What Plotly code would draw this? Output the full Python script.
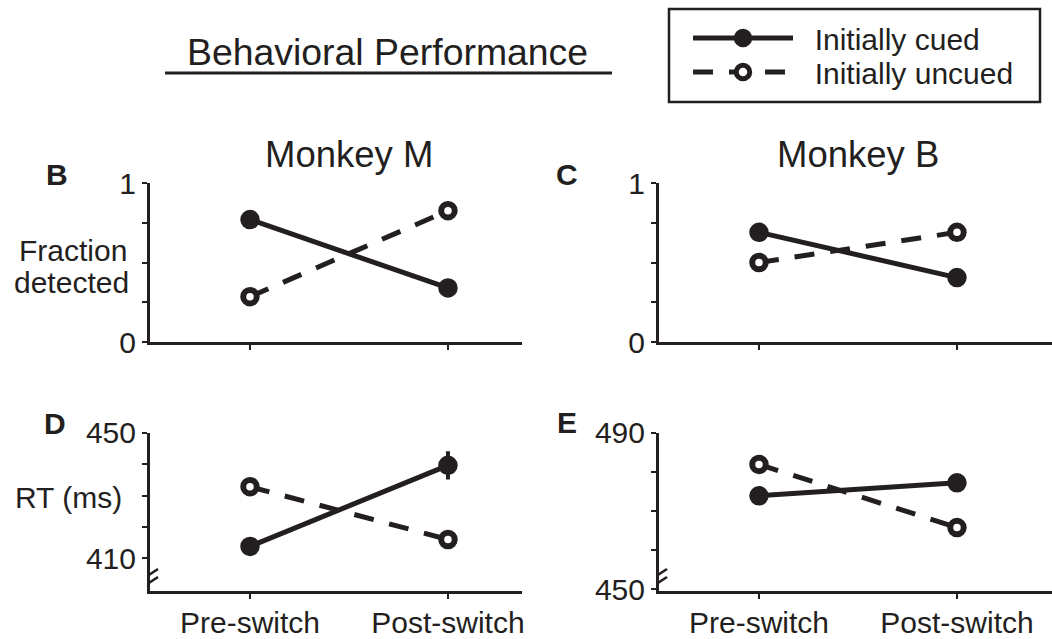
import plotly.graph_objects as go

W, H = 1052, 639
INK = "#231f20"
FONT = "Liberation Sans, Arial, Helvetica, sans-serif"

# ---------------- data ----------------
conditions = ["Pre-switch", "Post-switch"]
series_names = ["Initially cued", "Initially uncued"]

frac_M_cued = [0.77, 0.34]
frac_M_uncued = [0.285, 0.826]
frac_B_cued = [0.69, 0.405]
frac_B_uncued = [0.50, 0.69]

rt_M_cued = [413.8, 439.6]
rt_M_uncued = [432.8, 416.0]
rt_B_cued = [473.9, 477.2]
rt_B_uncued = [481.9, 465.8]

rt_M_cued_err = [1.0, 4.5]
rt_M_uncued_err = [1.0, 1.0]
rt_B_cued_err = [1.0, 1.0]
rt_B_uncued_err = [1.0, 1.0]

frac_ticks = [0, 0.25, 0.5, 0.75, 1]
frac_ticktext = ["0", "", "", "", "1"]
rt_M_ticks = [410, 420, 430, 440, 450]
rt_M_ticktext = ["410", "", "", "", "450"]
rt_B_ticks = [450, 460, 470, 480, 490]
rt_B_ticktext = ["450", "", "", "", "490"]

x_pos = list(range(len(conditions)))

fig = go.Figure()

CUED_LINE = dict(color=INK, width=5)
UNCUED_LINE = dict(color=INK, width=5, dash="20px,16px")
CUED_MARK = dict(symbol="circle", size=13.5, color=INK, line=dict(color=INK, width=6))
UNCUED_MARK = dict(symbol="circle", size=13.5, color="white", line=dict(color=INK, width=6))
NB = "\u00a0\u00a0"

def err(arr):
    return dict(type="data", array=arr, visible=True, thickness=4, width=0, color=INK) if arr else None

def add_pair(cued, uncued, xa, ya, cued_err=None, uncued_err=None):
    fig.add_trace(go.Scatter(
        x=x_pos, y=uncued, xaxis=xa, yaxis=ya, mode="lines+markers",
        name=series_names[1], showlegend=False,
        line=UNCUED_LINE, marker=UNCUED_MARK, error_y=err(uncued_err), cliponaxis=False))
    fig.add_trace(go.Scatter(
        x=x_pos, y=cued, xaxis=xa, yaxis=ya, mode="lines+markers",
        name=series_names[0], showlegend=False,
        line=CUED_LINE, marker=CUED_MARK, error_y=err(cued_err), cliponaxis=False))

add_pair(frac_M_cued, frac_M_uncued, "x", "y")
add_pair(frac_B_cued, frac_B_uncued, "x2", "y2")
add_pair(rt_M_cued, rt_M_uncued, "x3", "y3", rt_M_cued_err, rt_M_uncued_err)
add_pair(rt_B_cued, rt_B_uncued, "x4", "y4", rt_B_cued_err, rt_B_uncued_err)

# legend entries (one legend per row so the row spacing can match)
fig.add_trace(go.Scatter(x=[None], y=[None], mode="lines+markers", name=NB + series_names[0],
                         line=CUED_LINE, marker=CUED_MARK, showlegend=True, legend="legend"))
fig.add_trace(go.Scatter(x=[None], y=[None], mode="lines+markers", name=NB + series_names[1],
                         line=UNCUED_LINE, marker=UNCUED_MARK, showlegend=True, legend="legend2"))

# ---------------- axes ----------------
left_dom = [150 / W, 522 / W]
right_dom = [659 / W, 1.0]
top_dom = [(H - 342) / H, (H - 183) / H]
bot_dom = [(H - 591) / H, (H - 432.7) / H]
xr_left = [-0.505, 1.374]
xr_right = [-0.505, 1.48]

def xax(dom, rng, anchor, labels):
    return dict(domain=dom, range=rng, anchor=anchor, showline=True, linewidth=3, linecolor=INK,
                showgrid=False, zeroline=False, tickvals=x_pos, ticktext=conditions,
                showticklabels=labels, ticks="outside", ticklen=5, tickwidth=2, tickcolor=INK,
                ticklabelstandoff=-2,
                tickfont=dict(size=30, color=INK, family=FONT), fixedrange=True)

def yax(dom, rng, anchor, tv, tt):
    return dict(domain=dom, range=rng, anchor=anchor, showline=True, linewidth=3, linecolor=INK,
                showgrid=False, zeroline=False, tickvals=tv, ticktext=tt,
                ticks="outside", ticklen=5, tickwidth=2, tickcolor=INK, ticklabelstandoff=0,
                tickfont=dict(size=30, color=INK, family=FONT), fixedrange=True)

fig.update_layout(
    xaxis=xax(left_dom, xr_left, "y", False),
    yaxis=yax(top_dom, [0, 1], "x", frac_ticks, frac_ticktext),
    xaxis2=xax(right_dom, xr_right, "y2", False),
    yaxis2=yax(top_dom, [0, 1], "x2", frac_ticks, frac_ticktext),
    xaxis3=xax(left_dom, xr_left, "y3", True),
    yaxis3=yax(bot_dom, [399.6, 450], "x3", rt_M_ticks, rt_M_ticktext),
    xaxis4=xax(right_dom, xr_right, "y4", True),
    yaxis4=yax(bot_dom, [449.6, 490], "x4", rt_B_ticks, rt_B_ticktext),
)

# ---------------- annotations ----------------
def ann(text, px, py, size, bold=False):
    return dict(text=("<b>%s</b>" % text) if bold else text, x=px / W, y=(H - py) / H,
                xref="paper", yref="paper", showarrow=False, xanchor="center", yanchor="middle",
                font=dict(size=size, color=INK, family=FONT))

annotations = [
    ann("Behavioral Performance", 387, 52, 37.4),
    ann("Monkey M", 349, 155, 36.5),
    ann("Monkey B", 858, 155, 36.5),
    ann("B", 57, 174, 30, True),
    ann("C", 567, 174, 30, True),
    ann("D", 55, 423, 30, True),
    ann("E", 567, 422, 30, True),
    ann("Fraction", 73, 250, 30),
    ann("detected", 71, 282, 30),
    ann("RT (ms)", 68, 497, 30),
]

# ---------------- shapes ----------------
shapes = [
    dict(type="line", xref="paper", yref="paper", x0=165 / W, x1=612 / W,
         y0=(H - 73) / H, y1=(H - 73) / H, line=dict(color=INK, width=3)),
    dict(type="rect", xref="paper", yref="paper", x0=669 / W, x1=1040 / W,
         y0=(H - 102) / H, y1=(H - 9) / H, line=dict(color=INK, width=2.5)),
]
for xa, ya, xr, yb in (("x3", "y3", xr_left, 399.6), ("x4", "y4", xr_right, 449.6)):
    shapes.append(dict(type="line", xref=xa, yref=ya, xsizemode="pixel", ysizemode="pixel",
                       xanchor=xr[0], yanchor=yb, x0=0, x1=0, y0=10, y1=16,
                       line=dict(color="white", width=5), layer="above"))
    for off in (0, 8):
        shapes.append(dict(type="line", xref=xa, yref=ya, xsizemode="pixel", ysizemode="pixel",
                           xanchor=xr[0], yanchor=yb, x0=-6, x1=8, y0=5 + off, y1=14 + off,
                           line=dict(color=INK, width=2.5), layer="above"))

leg_common = dict(xanchor="left", yanchor="top", borderwidth=0, bgcolor="rgba(0,0,0,0)",
                  font=dict(size=30, color=INK, family=FONT), itemwidth=100)
fig.update_layout(
    width=W, height=H, margin=dict(l=0, r=0, t=0, b=0, autoexpand=False),
    paper_bgcolor="white", plot_bgcolor="white",
    font=dict(family=FONT, color=INK, size=30),
    annotations=annotations, shapes=shapes,
    legend=dict(x=688 / W, y=1 - 12 / H, **leg_common),
    legend2=dict(x=688 / W, y=1 - 46 / H, **leg_common),
    showlegend=True,
)

fig.write_html("out.html")
